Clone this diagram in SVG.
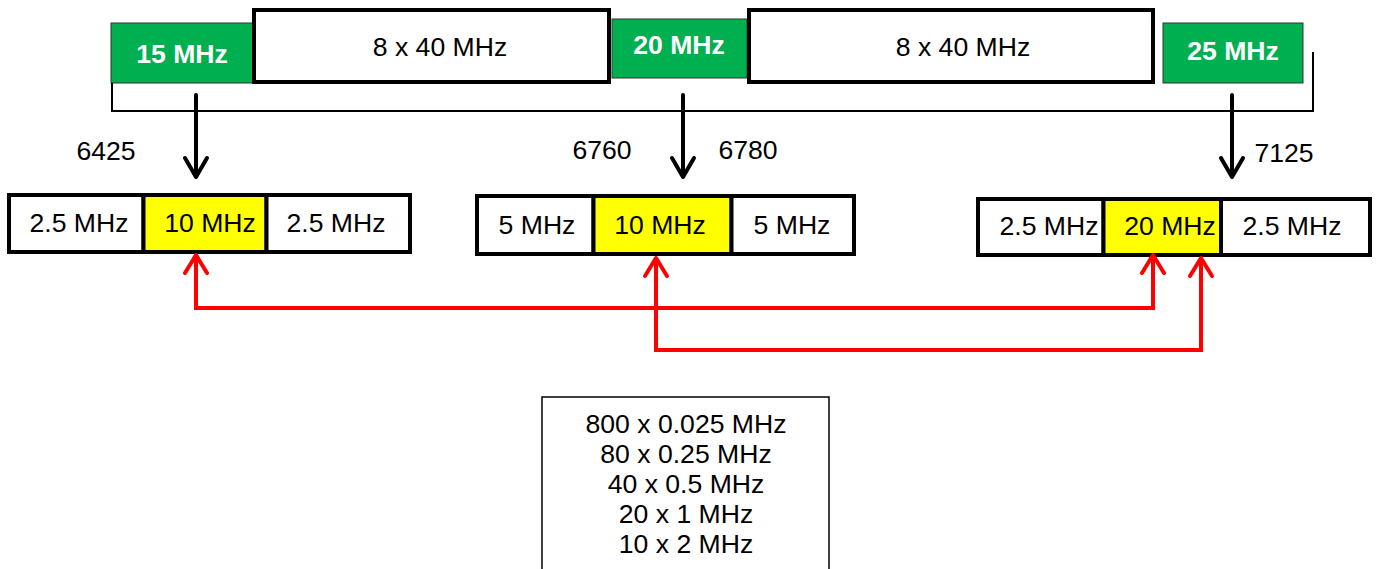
<svg xmlns="http://www.w3.org/2000/svg" width="1378" height="569" viewBox="0 0 1378 569">
<defs>
<style>
text{font-family:"Liberation Sans",Arial,sans-serif;font-size:26.6px;fill:#000;text-anchor:middle}
.b{font-weight:bold;fill:#fff}
.green{fill:#00B050;stroke:#333;stroke-width:1}
.wbox{fill:#fff;stroke:#000;stroke-width:4}
.cell{fill:#fff;stroke:#000;stroke-width:4}
.yel{fill:#FFFF00;stroke:#000;stroke-width:4}
.blk{fill:none;stroke:#000;stroke-width:4;stroke-linecap:round;stroke-linejoin:round}
.red{fill:none;stroke:#FF0000;stroke-width:4;stroke-linejoin:miter}
.redh{fill:none;stroke:#FF0000;stroke-width:4;stroke-linecap:round;stroke-linejoin:round}
</style>
</defs>
<rect width="1378" height="569" fill="#fff"/>
<g id="g15"><rect class="green" x="111" y="23" width="142" height="60"/><text class="b" x="182" y="63">15 MHz</text></g>
<g id="w1"><rect class="wbox" x="254" y="10" width="355" height="72"/><text x="440" y="56">8 x 40 MHz</text></g>
<g id="g20"><rect class="green" x="612" y="19" width="135" height="59"/><text class="b" x="679" y="54">20 MHz</text></g>
<g id="w2"><rect class="wbox" x="749" y="10" width="404" height="72"/><text x="963" y="56">8 x 40 MHz</text></g>
<g id="g25"><rect class="green" x="1163" y="23" width="140" height="60"/><text class="b" x="1233" y="60">25 MHz</text></g>
<g id="bracket"><polyline points="112,83 112,111 1313,111 1313,52" fill="none" stroke="#000" stroke-width="2"/></g>
<g id="labels">
<text x="106" y="160">6425</text>
<text x="602" y="159">6760</text>
<text x="748" y="159">6780</text>
<text x="1284" y="162">7125</text>
</g>
<g id="ch1">
<rect class="cell" x="9" y="195" width="134.5" height="57"/>
<rect class="yel" x="143.5" y="195" width="123" height="57"/>
<rect class="cell" x="266.5" y="195" width="143.5" height="57"/>
<text x="79" y="232">2.5 MHz</text><text x="210" y="232">10 MHz</text><text x="336" y="232">2.5 MHz</text>
</g>
<g id="ch2">
<rect class="cell" x="477" y="196" width="116.5" height="58"/>
<rect class="yel" x="593.5" y="196" width="138" height="58"/>
<rect class="cell" x="731.5" y="196" width="122.5" height="58"/>
<text x="537" y="234">5 MHz</text><text x="660" y="234">10 MHz</text><text x="792" y="234">5 MHz</text>
</g>
<g id="ch3">
<rect class="cell" x="978" y="199" width="125.5" height="56"/>
<rect class="yel" x="1103.5" y="199" width="117.5" height="56"/>
<rect class="cell" x="1221" y="199" width="149" height="56"/>
<text x="1049" y="235">2.5 MHz</text><text x="1170" y="235">20 MHz</text><text x="1292" y="235">2.5 MHz</text>
</g>
<g id="list">
<rect x="542" y="397" width="287" height="180" fill="#fff" stroke="#000" stroke-width="1.5"/>
<text x="686" y="433">800 x 0.025 MHz</text>
<text x="686" y="463">80 x 0.25 MHz</text>
<text x="686" y="493">40 x 0.5 MHz</text>
<text x="686" y="523">20 x 1 MHz</text>
<text x="686" y="553">10 x 2 MHz</text>
</g>
<g id="connectors">
<path class="blk" d="M196,95 V176 M185,158 L196,177 L207,158"/>
<path class="blk" d="M683,95 V176 M672,158 L683,177 L694,158"/>
<path class="blk" d="M1232,95 V176 M1221,158 L1232,177 L1243,158"/>
<path class="red" d="M196,256 V308 H1153 V256"/>
<path class="red" d="M656,260 V350 H1201 V260"/>
<path class="redh" d="M185,273 L196,255 L207,273"/>
<path class="redh" d="M645,276 L656,258 L667,276"/>
<path class="redh" d="M1142,273 L1153,255 L1164,273"/>
<path class="redh" d="M1190,276 L1201,258 L1212,276"/>
</g>
</svg>
